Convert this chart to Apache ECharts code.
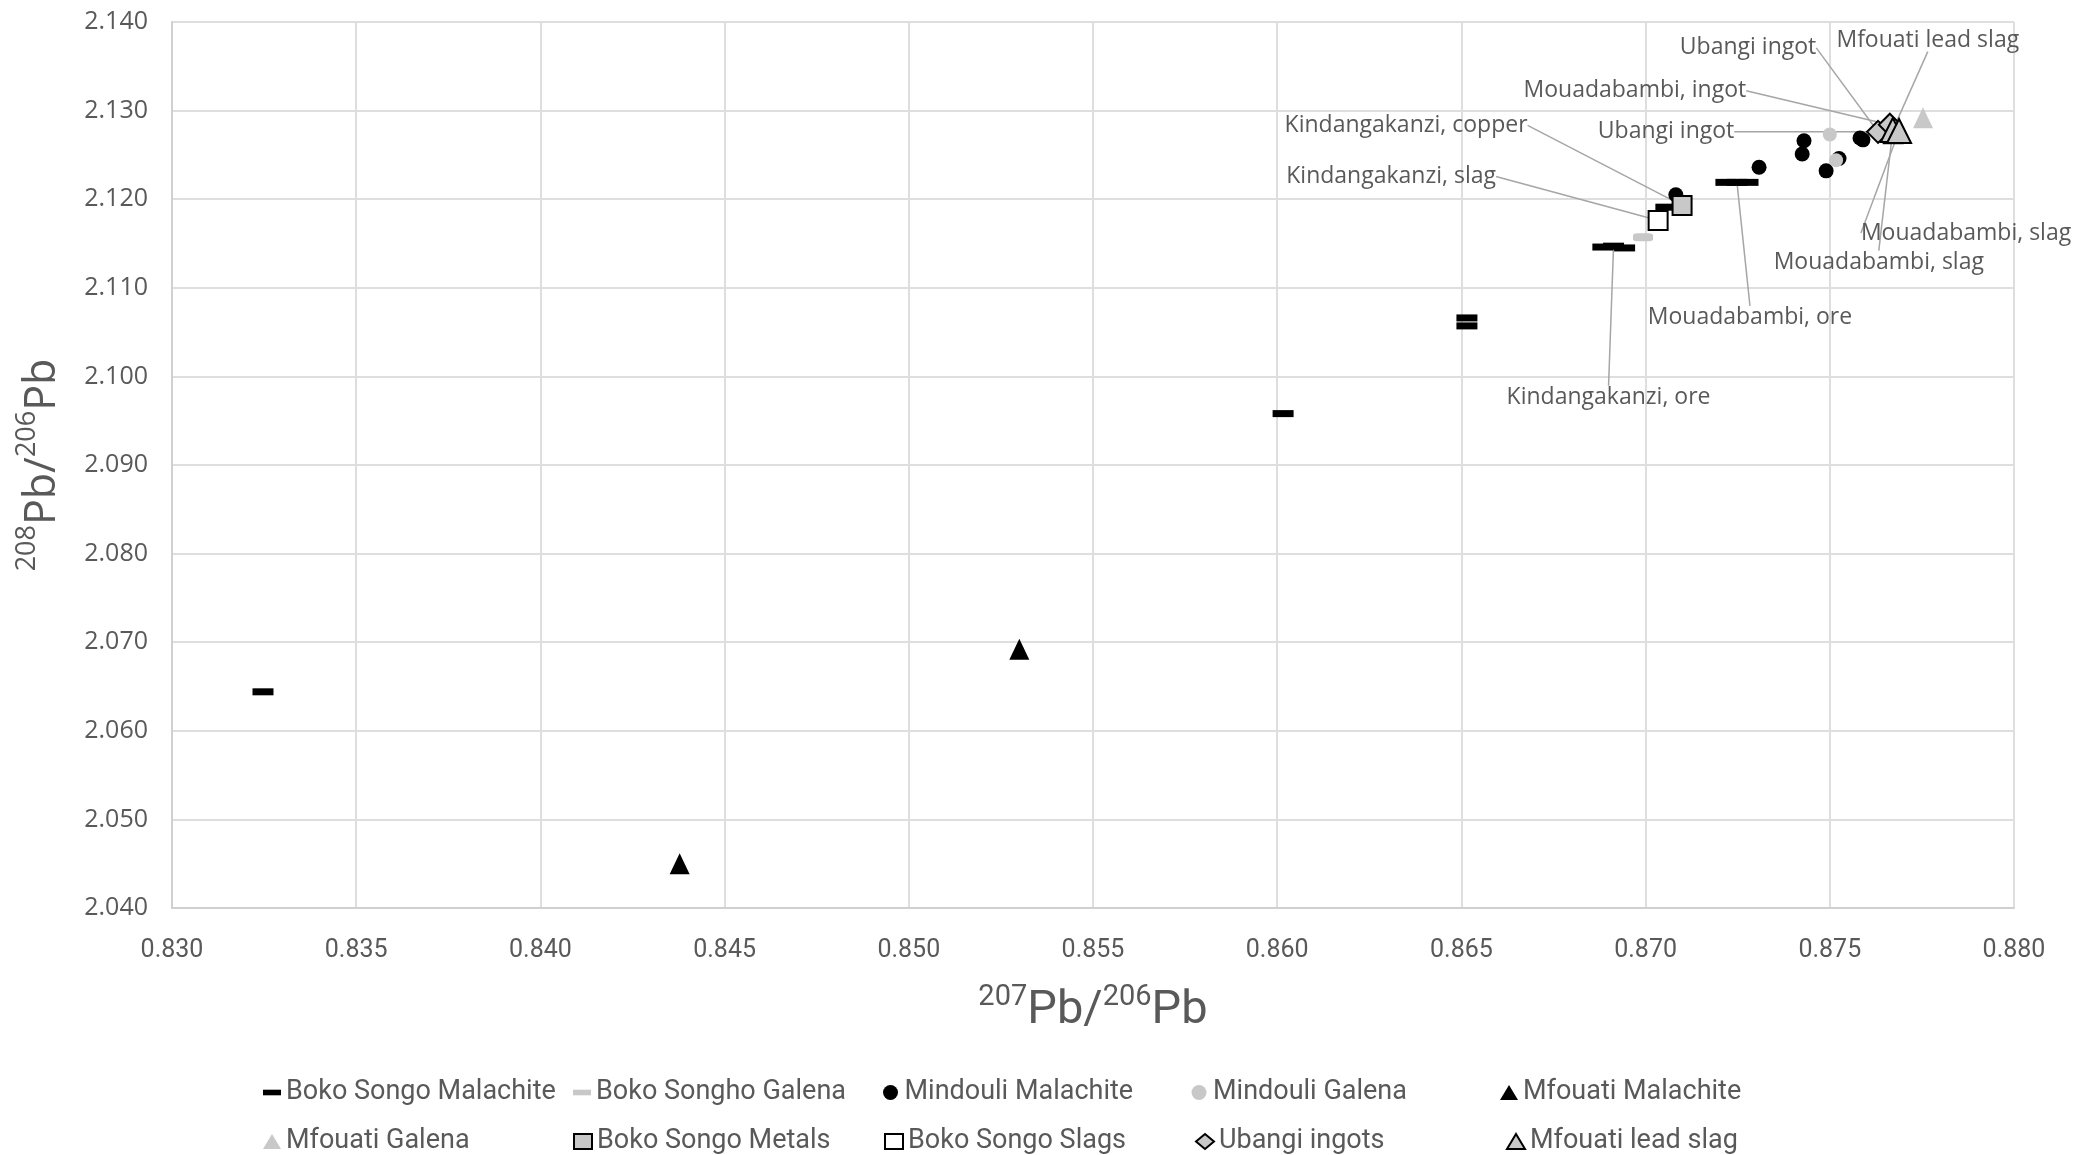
<!DOCTYPE html>
<html lang="en">
<head>
    <meta charset="UTF-8">
    <title>Pb isotopes</title>
    <style>
        html, body { margin: 0; padding: 0; background: #fff; }
        #main { width: 2076px; height: 1155px; }
    </style>
    <script src="https://cdn.jsdelivr.net/npm/echarts@6/dist/echarts.min.js"></script>
</head>
<body>
<div id="main"></div>
<script>
    // 207Pb/206Pb , 208Pb/206Pb
    var bokoMalachite = [
        [0.83247, 2.0644], [0.86016, 2.0958], [0.86515, 2.1066], [0.86515, 2.1057],
        [0.86884, 2.1146], [0.86913, 2.1147], [0.86943, 2.1145], [0.87055, 2.1191],
        [0.87218, 2.1219], [0.87248, 2.1219], [0.87278, 2.1219], [0.87672, 2.1266]
    ];
    var bokoGalena = [[0.86993, 2.1157]];
    var mindouliMalachite = [
        [0.87430, 2.1266], [0.87425, 2.1251], [0.87308, 2.1236], [0.87490, 2.1232],
        [0.87525, 2.1246], [0.87582, 2.1269], [0.87590, 2.1267], [0.87082, 2.1205]
    ];
    var mindouliGalena = [[0.87500, 2.1273], [0.87517, 2.1244]];
    var mfouatiMalachite = [[0.84378, 2.0450], [0.85300, 2.0692]];
    var mfouatiGalena = [[0.87753, 2.1292]];
    var bokoMetals = [[0.87099, 2.1193]];
    var bokoSlags = [[0.87034, 2.1176]];
    var ubangiIngots = [[0.87631, 2.1276], [0.87663, 2.1284]];
    var mfouatiLeadSlag = [[0.87671, 2.1278], [0.87688, 2.1277]];

    // callouts: text and the point they point at
    var noteNames = [
        'Ubangi ingot', 'Mfouati lead slag', 'Mouadabambi, ingot', 'Ubangi ingot',
        'Kindangakanzi, copper', 'Kindangakanzi, slag', 'Mouadabambi, slag',
        'Mouadabambi, slag', 'Mouadabambi, ore', 'Kindangakanzi, ore'
    ];
    var noteTargets = [
        [0.87631, 2.1276], [0.87671, 2.1278], [0.87663, 2.1284], [0.87631, 2.1276],
        [0.87099, 2.1193], [0.87034, 2.1176], [0.87688, 2.1277],
        [0.87671, 2.1278], [0.87248, 2.1219], [0.86913, 2.1147]
    ];

    var xTicks = ['0.830', '0.835', '0.840', '0.845', '0.850', '0.855', '0.860', '0.865', '0.870', '0.875', '0.880'];
    var yTicks = ['2.040', '2.050', '2.060', '2.070', '2.080', '2.090', '2.100', '2.110', '2.120', '2.130', '2.140'];

    // pixel offsets of the callout texts from their points
    var noteOffsets = [
        [-130, -84], [35, -90], [-255, -34], [-212, 0],
        [-276, -80], [-267, -44], [67, 102],
        [-14, 132], [13, 135], [-5, 151]
    ];

    var narrow = '"Liberation Sans Narrow", Roboto, sans-serif';
    var wide = '"Open Sans", sans-serif';
    var grey = '#595959';
    var light = '#c8c8c8';
    var dash = 'path://M0,0H16V5H0Z';

    var myChart = echarts.init(document.getElementById('main'));

    function pts(arr) {
        return arr.map(function (p) { return [p[0], p[1]]; });
    }

    var option = {
        animation: false,
        grid: { left: 172, right: 62, top: 22, bottom: 247 },
        xAxis: {
            type: 'value',
            min: 0.83, max: 0.88, interval: 0.005,
            axisLine: { lineStyle: { color: '#d0d0d0', width: 2 } },
            axisTick: { show: false },
            splitLine: { lineStyle: { color: '#dedede', width: 2 } },
            axisLabel: {
                margin: 30, color: grey, fontSize: 25, fontFamily: narrow,
                formatter: function (v) { return xTicks[Math.round((v - 0.83) / 0.005)]; }
            },
            name: '{s|207}{m|Pb/}{s|206}{m|Pb}',
            nameLocation: 'middle',
            nameGap: 75,
            nameTextStyle: {
                rich: {
                    s: { fontSize: 29, color: grey, fontFamily: narrow, verticalAlign: 'top', lineHeight: 32 },
                    m: { fontSize: 47, color: grey, fontFamily: narrow, lineHeight: 52, verticalAlign: 'bottom' }
                }
            }
        },
        yAxis: {
            type: 'value',
            min: 2.04, max: 2.14, interval: 0.01,
            axisLine: { show: true, lineStyle: { color: '#d0d0d0', width: 2 } },
            axisTick: { show: false },
            splitLine: { lineStyle: { color: '#dedede', width: 2 } },
            axisLabel: {
                margin: 24, color: grey, fontSize: 25, fontFamily: wide,
                formatter: function (v) { return yTicks[Math.round((v - 2.04) / 0.01)]; }
            },
            name: '{s|208}{m|Pb/}{s|206}{m|Pb}',
            nameLocation: 'middle',
            nameRotate: 90,
            nameGap: 108,
            nameTextStyle: {
                rich: {
                    s: { fontSize: 27, color: grey, fontFamily: wide, verticalAlign: 'top', lineHeight: 30 },
                    m: { fontSize: 43, color: grey, fontFamily: wide, lineHeight: 50, verticalAlign: 'bottom' }
                }
            }
        },
        legend: {
            left: 258, top: 1063, width: 1600,
            itemWidth: 18, itemHeight: 15, itemGap: 0,
            textStyle: { fontSize: 27, color: grey, fontFamily: narrow, width: 287, lineHeight: 49 },
            data: [
                { name: 'Boko Songo Malachite', icon: dash },
                { name: 'Boko Songho Galena', icon: dash },
                { name: 'Mindouli Malachite', icon: 'circle' },
                { name: 'Mindouli Galena', icon: 'circle' },
                { name: 'Mfouati Malachite', icon: 'triangle' },
                { name: 'Mfouati Galena', icon: 'triangle' },
                { name: 'Boko Songo Metals', icon: 'rect' },
                { name: 'Boko Songo Slags', icon: 'rect' },
                { name: 'Ubangi ingots', icon: 'diamond' },
                { name: 'Mfouati lead slag', icon: 'triangle' }
            ]
        },
        series: [
            {
                name: 'notes', type: 'scatter', z: 1, silent: true,
                data: noteTargets.map(function (p, i) { return { name: noteNames[i], value: p }; }),
                symbolSize: 1,
                itemStyle: { color: 'rgba(0,0,0,0)', opacity: 1 },
                label: {
                    show: true, position: 'inside', formatter: '{b}',
                    fontSize: 23, color: grey, fontFamily: wide
                },
                labelLayout: function (params) {
                    var o = noteOffsets[params.dataIndex];
                    return { dx: o[0], dy: o[1] };
                },
                labelLine: { show: true, lineStyle: { color: '#a6a6a6', width: 1.5 } }
            },
            {
                name: 'Boko Songo Malachite', type: 'scatter', z: 3,
                data: pts(bokoMalachite), symbol: 'rect', symbolSize: [21, 7],
                itemStyle: { color: '#000', opacity: 1 }
            },
            {
                name: 'Boko Songho Galena', type: 'scatter', z: 3,
                data: pts(bokoGalena), symbol: 'roundRect', symbolSize: [20, 8],
                itemStyle: { color: light, opacity: 1 }
            },
            {
                name: 'Mindouli Malachite', type: 'scatter', z: 3,
                data: pts(mindouliMalachite), symbol: 'circle', symbolSize: 15,
                itemStyle: { color: '#000', opacity: 1 }
            },
            {
                name: 'Mindouli Galena', type: 'scatter', z: 4,
                data: pts(mindouliGalena), symbol: 'circle', symbolSize: 14,
                itemStyle: { color: light, opacity: 1 }
            },
            {
                name: 'Mfouati Malachite', type: 'scatter', z: 3,
                data: pts(mfouatiMalachite), symbol: 'triangle', symbolSize: [20, 21],
                itemStyle: { color: '#000', opacity: 1 }
            },
            {
                name: 'Mfouati Galena', type: 'scatter', z: 3,
                data: pts(mfouatiGalena), symbol: 'triangle', symbolSize: [20, 21],
                itemStyle: { color: light, opacity: 1 }
            },
            {
                name: 'Boko Songo Metals', type: 'scatter', z: 5,
                data: pts(bokoMetals), symbol: 'rect', symbolSize: 19,
                itemStyle: { color: light, borderColor: '#000', borderWidth: 2, opacity: 1 }
            },
            {
                name: 'Boko Songo Slags', type: 'scatter', z: 5,
                data: pts(bokoSlags), symbol: 'rect', symbolSize: 19,
                itemStyle: { color: '#fff', borderColor: '#000', borderWidth: 2, opacity: 1 }
            },
            {
                name: 'Ubangi ingots', type: 'scatter', z: 5,
                data: pts(ubangiIngots), symbol: 'diamond', symbolSize: 22,
                itemStyle: { color: light, borderColor: '#000', borderWidth: 2, opacity: 1 }
            },
            {
                name: 'Mfouati lead slag', type: 'scatter', z: 6,
                data: pts(mfouatiLeadSlag), symbol: 'triangle', symbolSize: [24, 24],
                itemStyle: { color: light, borderColor: '#000', borderWidth: 2, opacity: 1 }
            }
        ]
    };

    if (option && typeof option === "object") {
        myChart.setOption(option, true);
    }
</script>
</body>
</html>
